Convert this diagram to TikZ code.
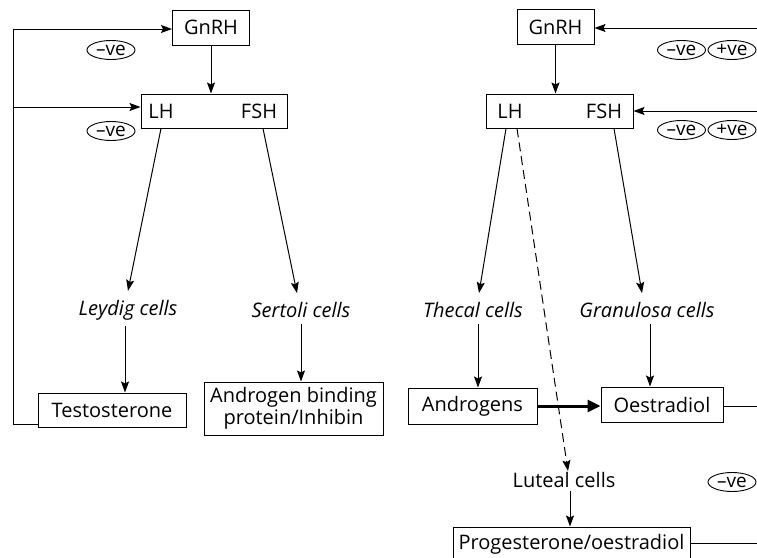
\documentclass[tikz,border=0pt]{standalone}
\usepackage{fontspec}
\setmainfont{Open Sans}
\usetikzlibrary{arrows.meta,shapes.geometric,calc}
\tikzset{
  box/.style={draw, line width=1pt, inner sep=0pt, font=\fontsize{20}{22}\selectfont},
  txt/.style={inner sep=0pt, font=\fontsize{20}{22}\selectfont},
  itxt/.style={inner sep=0pt, font=\fontsize{20}{22}\selectfont\itshape},
  ring/.style={draw, ellipse, line width=0.9pt, inner sep=0pt, minimum width=48pt, minimum height=19pt},
  sign/.style={inner sep=0pt, font=\fontsize{19}{20}\selectfont, label={[ring]center:{}}},
  arr/.style={line width=1pt, -{Stealth[length=11pt,width=8pt,inset=2pt]}},
  ln/.style={line width=1pt},
}
\begin{document}
\begin{tikzpicture}[x=1pt,y=-1pt]
\useasboundingbox (0,0) rectangle (757,557);
\clip (0,0) rectangle (757,557);
% ---------- left (male) ----------
\node[box, minimum width=77pt, minimum height=35pt] (gnrhL) at (211,27.5) {GnRH};
\node[box, minimum width=146pt, minimum height=34pt] (lhfshL) at (214,111) {};
\node[txt] (lhL) at (161,111) {LH};
\node[txt] (fshL) at (259,111) {FSH};
\node[sign] (negL1) at (111,50) {–ve};
\node[sign] (negL2) at (111,131) {–ve};
\node[itxt] (leydig) at (128,310) {Leydig cells};
\node[itxt] (sertoli) at (301,310) {Sertoli cells};
\node[box, minimum width=148pt, minimum height=34pt] (testo) at (112,410) {Testosterone};
\node[box, minimum width=179pt, minimum height=53pt, align=center] (abp) at (293.5,408.5) {Androgen binding\\protein/Inhibin};
\coordinate (cL1) at (13,424);
\coordinate (cL2) at (13,29);
\coordinate (cL3) at (13,107);
\draw[arr] (gnrhL.south) -- (gnrhL.south |- lhfshL.north);
\draw[arr] (lhL.center |- lhfshL.south) -- ([yshift=9pt]leydig.north);
\draw[arr] ([xshift=4pt]fshL.center |- lhfshL.south) -- ([yshift=9pt,xshift=-4pt]sertoli.north);
\draw[arr] ([xshift=-3pt,yshift=-6pt]leydig.south) -- ([xshift=-3pt]leydig.south |- testo.north);
\draw[arr] ([yshift=-6pt]sertoli.south) -- (sertoli.south |- abp.north);
\draw[ln] ([yshift=-14pt]testo.west) -- (cL1) -- (cL2);
\draw[arr] (cL2) -- ([yshift=-1.5pt]gnrhL.west);
\draw[arr] (cL3) -- ([yshift=4pt]lhfshL.west);
% ---------- right (female) ----------
\node[box, minimum width=77pt, minimum height=35pt] (gnrhR) at (555.5,27) {GnRH};
\node[box, minimum width=147pt, minimum height=34pt] (lhfshR) at (559.5,111) {};
\node[txt] (lhR) at (510,111) {LH};
\node[txt] (fshR) at (604,111) {FSH};
\node[sign] (negR1) at (681.5,50) {–ve};
\node[sign] (posR1) at (732,50) {+ve};
\node[sign] (negR2) at (681.5,130) {–ve};
\node[sign] (posR2) at (732,130) {+ve};
\node[itxt] (thecal) at (473,310) {Thecal cells};
\node[itxt] (granulosa) at (647,310) {Granulosa cells};
\node[box, minimum width=129pt, minimum height=36pt] (andro) at (472.5,406) {Androgens};
\node[box, minimum width=122pt, minimum height=35pt] (oest) at (662,404.5) {Oestradiol};
\node[txt] (luteal) at (564,480) {Luteal cells};
\node[sign] (negR3) at (732,482) {–ve};
\node[box, minimum width=237pt, minimum height=34pt] (prog) at (571.5,544) {Progesterone/oestradiol};
\coordinate (inR1) at (757,28);
\coordinate (inR2) at (757,111);
\coordinate (outR1) at (757,406);
\coordinate (outR2) at (757,543);
\draw[arr] (inR1) -- (gnrhR.east |- inR1);
\draw[arr] (inR2) -- (lhfshR.east);
\draw[arr] (gnrhR.south) -- (gnrhR.south |- lhfshR.north);
\draw[arr] ([xshift=-4pt]lhR.center |- lhfshR.south) -- ([xshift=6pt,yshift=9pt]thecal.north);
\draw[arr, dashed, dash pattern=on 9pt off 5pt] ([xshift=7pt]lhR.center |- lhfshR.south) -- ([xshift=4pt,yshift=1pt]luteal.north);
\draw[arr] ([xshift=10pt]fshR.center |- lhfshR.south) -- ([xshift=-5pt,yshift=9pt]granulosa.north);
\draw[arr] ([xshift=5pt,yshift=-6pt]thecal.south) -- ([xshift=5pt]thecal.south |- andro.north);
\draw[arr] ([xshift=3pt,yshift=-6pt]granulosa.south) -- ([xshift=3pt]granulosa.south |- oest.north);
\draw[line width=3pt, -{Triangle[length=13pt,width=12pt]}] (andro.east) -- (oest.west |- andro.east);
\draw[ln] (oest.east |- outR1) -- (outR1);
\draw[arr] ([xshift=6pt,yshift=-3pt]luteal.south) -- ([xshift=6pt]luteal.south |- prog.north);
\draw[ln] (prog.east |- outR2) -- (outR2);
\end{tikzpicture}
\end{document}
